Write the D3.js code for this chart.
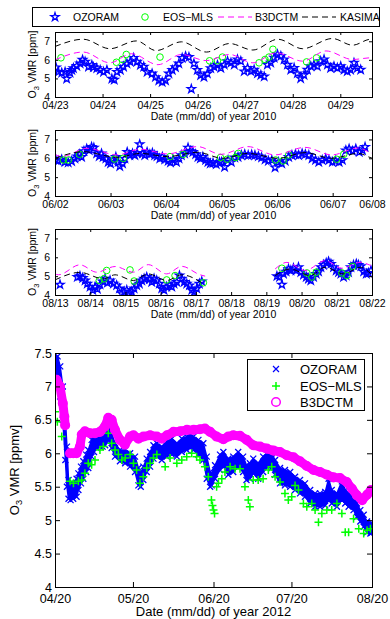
<!DOCTYPE html>
<html>
<head>
<meta charset="utf-8">
<script src="https://cdn.jsdelivr.net/npm/d3@7"></script>
<style>
  body { margin: 0; background: #fff; }
  svg { display: block; font-family: "Liberation Sans", Arial, sans-serif; }
</style>
</head>
<body>
<div id="chart"></div>
<script>
// ---- panel 1 : 04/23 - 04/29 2010 (hours since 04/23 00:00) ----
var oz1Hour = [0.5,1.7,3.4,5.1,5.9,7.6,8.5,9.3,11,12.7,13.9,15.2,16.9,18.6,19.4,21.1,22.8,24.5,26.2,28.7,
  29.9,31.3,33,34.6,36.3,38,39.7,41.4,43.1,44.8,46.5,49,50.7,52.4,54.1,55.8,57.5,59.2,60.8,62.5,
  64.2,65.9,67.6,68.8,70.1,71.8,73.5,75.2,76.9,78.6,80.3,82,83.7,85.4,87.1,88.8,90.5,92.1,93.8,95.5,
  97.2,98.9,100.5,102.2,103.9,105.6,107.2,108.9,110.6,112.3,114,115.6,117.3,119,120.7,122.3,124,125.7,127.4,129.1,
  130.7,132.4,134.1,135.8,137.5,139.1,140.8,142.5,144.2,145.9,147.5,149.2,150.9,152.6,154.3];
var oz1Val = [5.59,5.35,5.3,5.35,4.98,5.3,5.45,5.55,5.67,5.8,6.0,5.9,5.63,5.72,5.6,5.55,5.45,5.35,5.45,4.98,
  4.93,5.35,5.45,5.63,5.8,5.9,6.1,5.9,5.72,5.63,5.35,5.26,5.07,4.89,4.8,4.89,5.26,5.45,5.6,5.8,
  6.1,6.19,6.15,4.43,5.8,5.45,5.17,5.07,5.26,5.55,5.63,5.72,5.56,5.74,5.93,5.84,5.74,6.02,5.93,5.38,
  5.56,5.38,5.47,5.27,5.18,5.1,5.74,5.84,6.11,6.29,6.2,6.02,5.74,5.47,5.56,5.27,5.0,5.18,5.47,5.65,
  5.74,5.65,5.93,6.02,5.74,5.56,5.65,5.56,5.65,5.47,5.38,5.47,5.84,5.56,5.47];
var mls1Hour = [3,31,34,36,53,78,82,84.5,103,106,108,110,127,132];
var mls1Val = [6.11,5.87,6.02,6.29,6.15,5.95,5.95,6.15,5.84,6.02,6.15,6.57,5.89,6.11];
var b3d1Hour = [0,14.3,27.7,38.6,52,63.8,76.4,88.1,99.9,111.6,125,136.8,150.2,159.4,160];
var b3d1Val = [6.0,6.42,5.84,6.33,5.74,6.29,5.96,6.29,5.84,6.38,5.93,6.48,6.02,6.11,6.11];
var kas1Hour = [0,14.3,27.7,41.1,51,63.8,76.4,88.1,99.9,112.5,125,140,150.2,159.4,160];
var kas1Val = [6.72,7.11,6.6,7.02,6.5,6.97,6.42,6.88,6.53,7.11,6.6,7.15,6.79,7.11,7.11];

// ---- panel 2 : 06/02 - 06/07 17h 2010 ----
var oz2Hour = [0.4,1.4,2.9,4.3,5.7,7.2,8.6,9.6,10.5,11.5,12.5,13.7,14.8,15.8,16.8,18,19.1,20.1,20.8,22,
  23,24,25.1,26.3,27.3,28,29.2,30.2,31.2,32.3,33.5,34.5,35.5,36.6,37.8,38.8,39.8,41,42.1,43.1,
  44.1,45.3,46.4,47.4,48.9,49.9,51,52.5,53.6,54.6,56,57.5,58.5,59.6,60.8,61.8,62.8,63.9,65.1,66.1,
  67.1,68.3,69.7,71.1,72,73.3,74.8,76.2,77.7,79.1,80.6,82,83.5,85,86.4,87.9,89.3,90.8,92.2,93.7,
  95.1,96.6,98,99.5,101,102.4,103.9,105.3,106.8,108.2,109.7,111.1,112.6,114,115.5,117,118.4,119.9,121.3,122.8,
  124.2,125.7,127.1,128.6,130,131.5,132.9,134];
var oz2Val = [5.9,5.86,5.93,5.8,5.77,5.84,5.98,6.1,6.2,6.07,6.38,6.5,6.42,6.6,6.56,6.25,6.1,6.25,6.07,5.98,
  5.8,5.72,5.9,6.07,5.8,5.58,5.72,5.98,6.33,6.16,6.25,6.16,6.28,6.74,6.25,6.16,6.33,6.21,6.28,6.16,
  6.1,5.98,6.07,5.93,5.86,5.77,5.93,5.8,5.98,6.16,6.25,6.56,6.38,6.33,6.21,6.07,5.98,6.07,5.9,5.8,
  5.72,5.75,5.68,5.8,5.8,5.54,5.9,5.8,6.04,6.07,6.16,6.21,6.16,6.19,6.16,6.1,6.04,5.93,5.86,5.9,
  5.51,5.8,5.72,5.86,6.07,6.16,6.21,6.16,6.25,6.21,6.16,5.98,5.9,5.8,5.9,5.98,5.9,5.8,5.86,5.8,
  5.9,6.42,6.5,6.38,6.5,6.33,6.42,6.6];
var mls2Hour = [3.6,5.8,10.6,25.7,29.5,49.7,55.4,71.5,74.4,78,79.2,95.3,98.6,101,121.7,124.8];
var mls2Val = [5.91,5.91,6.21,5.96,6.0,6.09,6.21,6.04,5.95,6.04,6.26,5.91,5.86,6.18,5.95,6.21];
var b3d2Hour = [0,2.9,13.8,26.8,37,48.6,61.6,71.8,83.4,95,108,119.6,131.2,137.8,144];
var b3d2Val = [6.21,6.09,6.53,6.18,6.48,6.23,6.62,6.21,6.62,6.18,6.58,6.18,6.55,6.26,6.26];
var kas2Hour = [0,12.3,26.8,37,48.6,61.6,72.5,83.4,96.4,108,119.6,131.2,137.8,144];
var kas2Val = [6.0,6.35,6.05,6.26,6.09,6.32,6.0,6.26,6.0,6.3,6.0,6.26,6.0,6.0];

// ---- panel 3 : 08/13 - 08/22 2010 ----
var oz3Hour = [3.4,15.2,17,18.9,20.5,22,23.9,25.7,27.3,28.9,30.7,32.5,34.1,35.7,37.5,39.8,42,43.9,45.5,47.1,
  48.9,50.7,52.3,53.9,55.7,57.5,59.1,60.7,62.5,64.3,65.9,67.5,69.3,71.1,72.7,74.3,76.1,78,79.6,81.1,
  83,84.8,86.4,88,89.8,91.6,93.2,94.8,96.6,98.4,100,
  151.2,153,154.6,155.7,157.5,159.1,160.7,162.5,164.3,165.9,167.5,169.3,171.2,172.7,174.3,176.2,178,179.6,181.2,183,
  184.8,186.4,188,189.8,191.6,193.2,194.8,196.6,198.4,200,201.6,203.4,205.3,206.8,208.4,210.3,212.1,213.7,215.3];
var oz3Val = [4.55,4.95,5.0,4.9,4.77,4.6,4.43,4.26,4.43,4.31,4.55,4.72,4.86,4.65,4.77,4.6,4.51,4.34,4.08,4.17,
  4.26,4.08,4.17,4.34,4.51,4.6,4.77,4.86,4.95,4.83,4.69,4.86,4.77,4.6,4.34,4.26,4.43,4.51,4.43,4.6,
  4.69,5.03,4.86,4.69,4.6,4.51,4.26,4.17,4.34,4.6,4.72,
  5.0,4.95,4.55,5.12,5.24,5.38,5.3,5.42,5.3,5.47,5.21,5.07,4.95,4.86,4.77,4.95,5.12,5.24,5.47,5.59,
  5.7,5.77,5.65,5.47,5.3,5.21,5.12,4.95,5.03,5.21,5.47,5.59,5.65,5.59,5.52,5.24,5.12,5.17,5.3];
var mls3Hour = [30.2,33.4,35.2,51.1,53.9,76.1,81.8,101.1,154.6,171.6,175,178,195.5,198.9,202.8];
var mls3Val = [4.77,4.86,5.3,5.33,4.74,4.8,5.03,4.65,5.42,5.17,4.95,5.21,5.17,5.03,5.52];
var b3d3Hour = [0,2.3,17,28.4,40.9,53.4,63.6,76.1,86.4,98.9,102.3,125,150,158,170.5,184.1,195.5,208,215.3];
var b3d3Val = [5.12,5.07,5.6,5.21,5.51,5.21,5.61,5.12,5.52,5.07,5.0,null,5.38,5.73,5.3,5.82,5.42,5.73,5.56];
var kas3Hour = [0,17,33,40.9,53.4,63.6,76.1,86.4,101,125,150,160.2,173.9,184.1,196.6,208,215.3];
var kas3Val = [4.8,5.2,4.86,5.07,4.77,5.12,4.77,5.07,4.6,null,5.03,5.38,5.03,5.47,5.12,5.47,5.12];

// ---- panel 4 : 04/20 - 08/20 2012 (days since 04/20) ----
var oz4Day = [0,1,2,3,4,4.6,5.2,6,7,8.3,9,10,10.9,12,12.8,14.1,15,16,17.3,18.3,
  19.3,20.5,21.8,23.1,25,27,28.9,30.8,32.1,33,34,35.3,36.6,37.9,39.2,41.1,43,45,46.9,48.8,
  50.7,52,53.3,55.2,57.1,58.4,59.7,60.3,61.6,63.5,64.8,66.7,68.6,70.5,72.4,73.7,75,76.3,78.2,80.1,
  82.1,83.4,84.7,86.6,88.5,90.5,92.4,94.3,96.2,98.2,100.1,102,104,105.3,106.5,108.5,110.4,111.7,113,114.9,
  116.2,117.5,118.8,120.1,121.4,122];
var oz4Lo = [7.1,7.0,6.85,6.5,5.9,5.5,5.32,5.3,5.32,5.35,5.45,5.55,5.62,5.72,5.78,5.95,6.02,6.08,6.1,6.1,
  6.12,6.2,6.08,5.95,5.88,5.85,5.8,5.72,5.52,5.5,5.6,5.72,5.8,5.92,5.95,5.9,5.95,5.98,5.95,6.02,
  6.05,6.08,6.05,5.98,5.9,5.62,5.5,5.52,5.62,5.75,5.8,5.68,5.72,5.8,5.72,5.6,5.62,5.7,5.62,5.72,
  5.8,5.78,5.68,5.55,5.52,5.5,5.45,5.4,5.35,5.25,5.2,5.2,5.22,5.3,5.25,5.2,5.3,5.25,5.2,5.15,
  5.05,4.98,4.9,4.82,4.8,4.82];
var oz4Hi = [7.48,7.45,7.3,7.0,6.5,6.1,5.6,5.55,5.55,5.62,5.7,5.8,5.88,5.98,6.05,6.2,6.25,6.3,6.3,6.32,
  6.35,6.42,6.3,6.15,6.05,6.05,6.0,5.95,5.78,5.7,5.8,5.92,6.02,6.12,6.15,6.1,6.18,6.22,6.15,6.22,
  6.25,6.28,6.25,6.2,6.15,5.95,5.72,5.7,5.82,5.98,6.02,5.92,5.95,6.02,5.95,5.82,5.85,5.92,5.85,5.95,
  6.02,6.0,5.9,5.78,5.75,5.72,5.65,5.6,5.55,5.45,5.4,5.4,5.42,5.62,5.45,5.4,5.58,5.45,5.4,5.35,
  5.25,5.15,5.08,4.98,4.95,4.95];
var mls4Day = [0,0.9,2.6,5.8,7.1,9,10.3,11.5,12.8,14.1,15.4,17.3,18.6,20.5,21.8,23.1,24.4,25.7,27,28.9,
  30.2,31.4,32.7,34,35.3,36.6,37.9,39.2,42.4,44.3,46.9,48.8,50.7,52.6,54.5,55.8,57.7,59,60.2,60.6,
  61,61.4,62.2,62.9,64.2,65.4,67.4,69.3,71.2,73.1,74.4,75,76.3,78.2,80.1,82.1,83.4,84.7,86.6,88.5,
  89.8,91.1,92.4,93.7,95.6,96.9,98.8,100.1,101.4,102.7,104.6,106.5,108.5,110.4,111.7,113,114.9,116.9,118.8,120.1,
  121.4];
var mls4Val = [6.62,6.47,6.25,5.58,5.55,5.58,5.6,5.7,5.85,5.83,5.9,6.05,6.1,6.3,6.15,6.05,5.98,5.9,5.93,5.98,
  5.85,5.75,5.55,5.65,5.78,5.85,5.93,5.98,5.8,5.93,5.85,5.9,5.95,6.0,5.95,5.9,5.8,5.65,5.3,5.22,
  5.15,5.1,5.5,5.55,5.62,5.72,5.8,5.77,5.77,5.5,5.3,5.2,5.6,5.6,5.62,5.75,5.8,5.65,5.57,5.4,
  5.3,5.35,5.52,5.45,5.25,5.2,5.25,5.15,4.97,5.1,5.15,5.15,5.25,5.1,4.82,4.82,5.02,4.87,4.8,4.85,
  4.87];
var b3d4Day = [0,0.6,1.9,3,3.6,3.9,4.8,5.8,7,8.3,9.6,10.3,11.5,13.5,15.4,17.3,19.2,20.5,21.8,23.1,
  25,26.9,28.9,30.2,32.1,34,36.6,39.2,41.1,43.1,45.6,48.2,50.8,53.4,55.8,57.7,59.7,62.2,64.8,66.7,
  68.6,71.2,73.8,76.3,78.9,81.5,84.1,86.6,89.2,91.8,94.3,96.9,99.5,102,104.6,107.2,109.7,112.3,114.3,116.2,
  118.2,120.1,121.6,122];
var b3d4Val = [7.08,7.1,7.0,6.75,6.55,6.42,null,6.0,6.0,6.0,6.1,6.28,6.33,6.3,6.3,6.32,6.4,6.53,6.5,6.35,
  6.2,6.13,6.25,6.27,6.22,6.25,6.27,6.25,6.22,6.27,6.32,6.33,6.35,6.35,6.36,6.37,6.32,6.25,6.21,6.25,
  6.27,6.26,6.2,6.12,6.1,6.07,6.04,6.02,5.97,5.94,5.88,5.81,5.75,5.72,5.68,5.64,5.63,5.57,5.47,5.37,
  5.3,5.38,5.45,5.45];

// ---- axes / labels (tick labels show the day nearest to the tick) ----
var p1Ticks = ["2010-04-23","2010-04-24","2010-04-25","2010-04-26","2010-04-27","2010-04-28","2010-04-29"];
var p2Ticks = ["2010-06-02","2010-06-03","2010-06-04","2010-06-05","2010-06-06","2010-06-07","2010-06-07T17:00Z"];
var p3Ticks = ["2010-08-13","2010-08-14","2010-08-15","2010-08-16","2010-08-17","2010-08-18","2010-08-19","2010-08-20","2010-08-21","2010-08-22"];
var p4Ticks = ["2012-04-20","2012-05-20","2012-06-20","2012-07-20","2012-08-20"];
var topYTicks = [4,5,6,7];
var botYTicks = [4,4.5,5,5.5,6,6.5,7,7.5];
var topLegend = ["OZORAM","EOS\u2212MLS","B3DCTM","KASIMA"];
var botLegend = ["OZORAM","EOS\u2212MLS","B3DCTM"];

var BLUE = "#0000ff", GREEN = "#00ff00", MAGENTA = "#ff00ff";
var HOUR = 3600000, DAY = 86400000;
var L = 55, R = 372;
var fmtRaw = d3.utcFormat("%m/%d");
var fmt = function(d) { return fmtRaw(d3.utcDay.round(d)); };

var svg = d3.select("#chart").append("svg")
  .attr("width", 390)
  .attr("height", 619);

function panel(id, top, bottom, x0, x1, ticks, yTicks, o) {
  var x = d3.scaleUtc().domain([x0, x1]).range([L, R]);
  var y = d3.scaleLinear().domain([4, 7.5]).range([bottom, top]);

  svg.append("clipPath").attr("id", "clip" + id).append("rect")
    .attr("x", L).attr("y", top).attr("width", R - L).attr("height", bottom - top);
  var plot = svg.append("g").attr("clip-path", "url(#clip" + id + ")");
  var axes = svg.append("g");

  var tv = ticks.map(d3.isoParse);
  axes.append("g").attr("transform", "translate(0," + bottom + ")")
    .call(d3.axisBottom(x).tickValues(tv).tickFormat(fmt).tickSizeInner(-o.tick).tickSizeOuter(0).tickPadding(o.xPad));
  axes.append("g").attr("transform", "translate(0," + top + ")")
    .call(d3.axisTop(x).tickValues(tv).tickFormat("").tickSizeInner(-o.tick).tickSizeOuter(0));
  axes.append("g").attr("transform", "translate(" + L + ",0)")
    .call(d3.axisLeft(y).tickValues(yTicks).tickFormat(d3.format("")).tickSizeInner(-o.tick).tickSizeOuter(0).tickPadding(o.yPad));
  axes.append("g").attr("transform", "translate(" + R + ",0)")
    .call(d3.axisRight(y).tickValues(yTicks).tickFormat("").tickSizeInner(-o.tick).tickSizeOuter(0));
  axes.selectAll(".domain").remove();
  axes.selectAll("line").attr("stroke", "#000");
  axes.selectAll("text")
    .attr("fill", "#000")
    .style("font-family", "'Liberation Sans', Arial, sans-serif")
    .style("font-size", o.fs + "px");

  axes.append("rect")
    .attr("x", L + 0.5).attr("y", top + 0.5)
    .attr("width", R - L).attr("height", bottom - top)
    .attr("fill", "none").attr("stroke", "#000").attr("stroke-width", 1);

  axes.append("text")
    .attr("x", (L + R) / 2).attr("y", o.xLabY)
    .attr("text-anchor", "middle")
    .style("font-size", o.lfs + "px")
    .text(o.xLabel);

  var yl = axes.append("text")
    .attr("transform", "translate(" + o.yLabX + "," + (top + bottom) / 2 + ") rotate(-90)")
    .attr("text-anchor", "middle")
    .style("font-size", o.lfs + "px");
  yl.append("tspan").text("O");
  yl.append("tspan").attr("dy", o.lfs * 0.3).style("font-size", (o.lfs * 0.72) + "px").text("3");
  yl.append("tspan").attr("dy", -o.lfs * 0.3).text(" VMR [" + o.unit + "]");

  return { x: x, y: y, plot: plot };
}

var starSym = d3.symbol().type(d3.symbolStar).size(21);

function topData(P, start, ozH, ozV, mlsH, mlsV, b3H, b3V, kaH, kaV) {
  var t = function(h) { return new Date(start + h * HOUR); };

  P.plot.selectAll("path.star").data(d3.zip(ozH, ozV)).enter().append("path")
    .attr("class", "star")
    .attr("d", starSym)
    .attr("transform", function(d) { return "translate(" + P.x(t(d[0])) + "," + P.y(d[1]) + ")"; })
    .attr("fill", "none").attr("stroke", BLUE).attr("stroke-width", 1.3);

  P.plot.selectAll("circle.mls").data(d3.zip(mlsH, mlsV)).enter().append("circle")
    .attr("class", "mls")
    .attr("cx", function(d) { return P.x(t(d[0])); })
    .attr("cy", function(d) { return P.y(d[1]); })
    .attr("r", 3.3)
    .attr("fill", "none").attr("stroke", GREEN).attr("stroke-width", 1);

  var line = d3.line()
    .defined(function(d) { return d[1] != null; })
    .x(function(d) { return P.x(t(d[0])); })
    .y(function(d) { return P.y(d[1]); })
    .curve(d3.curveMonotoneX);

  P.plot.append("path").datum(d3.zip(b3H, b3V)).attr("d", line)
    .attr("fill", "none").attr("stroke", MAGENTA).attr("stroke-width", 1).attr("stroke-dasharray", "6,4");
  P.plot.append("path").datum(d3.zip(kaH, kaV)).attr("d", line)
    .attr("fill", "none").attr("stroke", "#000").attr("stroke-width", 1).attr("stroke-dasharray", "6,4");
}

var topOpt = { tick: 3, xPad: 4.5, yPad: 5, fs: 10.5, lfs: 10.5, yLabX: 36, unit: "ppm",
  xLabel: "Date (mm/dd) of year 2010" };

var P1 = panel(1, 32, 97, Date.UTC(2010, 3, 23), Date.UTC(2010, 3, 29, 16), p1Ticks, topYTicks,
  Object.assign({}, topOpt, { xLabY: 120 }));
topData(P1, Date.UTC(2010, 3, 23), oz1Hour, oz1Val, mls1Hour, mls1Val, b3d1Hour, b3d1Val, kas1Hour, kas1Val);

var P2 = panel(2, 130, 196, Date.UTC(2010, 5, 2), Date.UTC(2010, 5, 7, 17), p2Ticks, topYTicks,
  Object.assign({}, topOpt, { xLabY: 219 }));
topData(P2, Date.UTC(2010, 5, 2), oz2Hour, oz2Val, mls2Hour, mls2Val, b3d2Hour, b3d2Val, kas2Hour, kas2Val);

var P3 = panel(3, 229, 295, Date.UTC(2010, 7, 13), Date.UTC(2010, 7, 22), p3Ticks, topYTicks,
  Object.assign({}, topOpt, { xLabY: 318 }));
topData(P3, Date.UTC(2010, 7, 13), oz3Hour, oz3Val, mls3Hour, mls3Val, b3d3Hour, b3d3Val, kas3Hour, kas3Val);

// ---- bottom panel ----
var P4 = panel(4, 353, 587, Date.UTC(2012, 3, 20), Date.UTC(2012, 7, 20), p4Ticks, botYTicks,
  { tick: 5, xPad: 7, yPad: 3, fs: 12.5, lfs: 13, yLabX: 18.5, unit: "ppmv", xLabY: 616,
    xLabel: "Date (mm/dd) of year 2012" });
var t4 = function(dd) { return new Date(Date.UTC(2012, 3, 20) + dd * DAY); };

var ozRows = oz4Day.map(function(dd, i) { return { d: dd, lo: oz4Lo[i], hi: oz4Hi[i] }; });
P4.plot.append("path").datum(ozRows)
  .attr("d", d3.area()
    .x(function(d) { return P4.x(t4(d.d)); })
    .y0(function(d) { return P4.y(d.lo); })
    .y1(function(d) { return P4.y(d.hi); }))
  .attr("fill", BLUE).attr("stroke", BLUE).attr("stroke-width", 1.5);

var xMark = "M-3,-3L3,3M-3,3L3,-3";
var plusMark = "M-4,0H4M0,-4V4";
var edges = [];
ozRows.forEach(function(r) { edges.push([r.d, r.lo], [r.d, r.hi]); });
P4.plot.selectAll("path.ozx").data(edges).enter().append("path")
  .attr("class", "ozx")
  .attr("d", xMark)
  .attr("transform", function(d) { return "translate(" + P4.x(t4(d[0])) + "," + P4.y(d[1]) + ")"; })
  .attr("stroke", BLUE).attr("stroke-width", 1.3).attr("fill", "none");

P4.plot.selectAll("path.mls").data(d3.zip(mls4Day, mls4Val)).enter().append("path")
  .attr("class", "mls")
  .attr("d", plusMark)
  .attr("transform", function(d) { return "translate(" + P4.x(t4(d[0])) + "," + P4.y(d[1]) + ")"; })
  .attr("stroke", GREEN).attr("stroke-width", 1.5).attr("fill", "none");

var b3Rows = d3.zip(b3d4Day, b3d4Val);
P4.plot.append("path").datum(b3Rows)
  .attr("d", d3.line()
    .defined(function(d) { return d[1] != null; })
    .x(function(d) { return P4.x(t4(d[0])); })
    .y(function(d) { return P4.y(d[1]); }))
  .attr("fill", "none").attr("stroke", MAGENTA).attr("stroke-width", 9)
  .attr("stroke-linejoin", "round").attr("stroke-linecap", "round");
P4.plot.selectAll("circle.b3").data(b3Rows.filter(function(d) { return d[1] != null; })).enter().append("circle")
  .attr("class", "b3")
  .attr("cx", function(d) { return P4.x(t4(d[0])); })
  .attr("cy", function(d) { return P4.y(d[1]); })
  .attr("r", 4.3)
  .attr("fill", "none").attr("stroke", MAGENTA).attr("stroke-width", 1.5);

// ---- legends ----
var lg1 = svg.append("g").style("font-size", "10.5px");
lg1.append("rect").attr("x", 32.5).attr("y", 7.5).attr("width", 347).attr("height", 19)
  .attr("fill", "#fff").attr("stroke", "#000");
lg1.append("path").attr("d", starSym).attr("transform", "translate(55,17)")
  .attr("fill", "none").attr("stroke", BLUE).attr("stroke-width", 1.3);
lg1.append("circle").attr("cx", 145).attr("cy", 17).attr("r", 3.3)
  .attr("fill", "none").attr("stroke", GREEN);
lg1.append("line").attr("x1", 218).attr("x2", 252).attr("y1", 17).attr("y2", 17)
  .attr("stroke", MAGENTA).attr("stroke-dasharray", "6,4");
lg1.append("line").attr("x1", 302).attr("x2", 336).attr("y1", 17).attr("y2", 17)
  .attr("stroke", "#000").attr("stroke-dasharray", "6,4");
var lg1X = [73, 163, 255, 340];
lg1.selectAll("text.lab").data(topLegend).enter().append("text")
  .attr("class", "lab")
  .attr("x", function(d, i) { return lg1X[i]; })
  .attr("y", 21)
  .text(function(d) { return d; });

var lg4 = svg.append("g").style("font-size", "13px");
lg4.append("rect").attr("x", 247.5).attr("y", 359.5).attr("width", 117).attr("height", 51)
  .attr("fill", "#fff").attr("stroke", "#000");
var lg4Y = [369, 386, 402];
lg4.append("path").attr("d", xMark).attr("transform", "translate(276," + lg4Y[0] + ")")
  .attr("stroke", BLUE).attr("stroke-width", 1.2);
lg4.append("path").attr("d", plusMark).attr("transform", "translate(276," + lg4Y[1] + ")")
  .attr("stroke", GREEN).attr("stroke-width", 1.5);
lg4.append("circle").attr("cx", 276).attr("cy", lg4Y[2]).attr("r", 4.3)
  .attr("fill", "none").attr("stroke", MAGENTA).attr("stroke-width", 1.5);
lg4.selectAll("text.lab").data(botLegend).enter().append("text")
  .attr("class", "lab")
  .attr("x", 300)
  .attr("y", function(d, i) { return lg4Y[i] + 4.5; })
  .text(function(d) { return d; });
</script>
</body>
</html>
